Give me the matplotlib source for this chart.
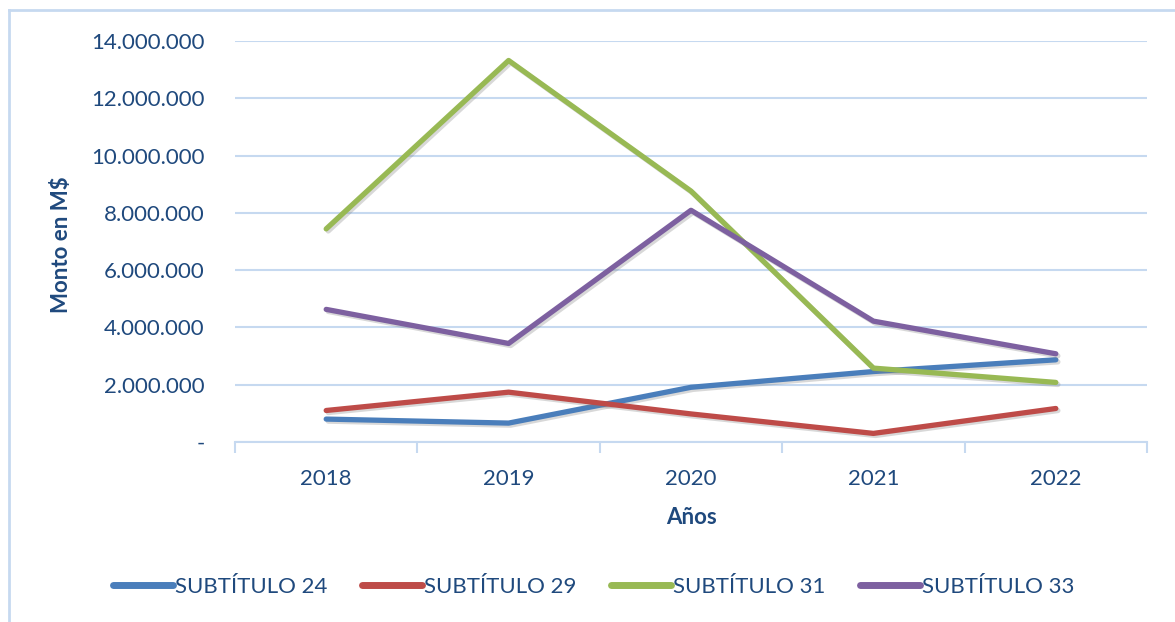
import matplotlib
matplotlib.use("Agg")
import matplotlib.pyplot as plt
import matplotlib.patheffects as pe
from matplotlib.lines import Line2D
from matplotlib.ticker import FuncFormatter, FixedLocator

years = ["2018", "2019", "2020", "2021", "2022"]
sub24 = [800000, 660000, 1910000, 2460000, 2870000]
sub29 = [1100000, 1740000, 980000, 300000, 1170000]
sub31 = [7440000, 13320000, 8760000, 2580000, 2080000]
sub33 = [4630000, 3440000, 8090000, 4220000, 3080000]
series_names = ["SUBTÍTULO 24", "SUBTÍTULO 29", "SUBTÍTULO 31", "SUBTÍTULO 33"]
colors = ["#4a7ebb", "#be4b48", "#98b954", "#7d60a0"]

text_color = "#1f497d"
grid_color = "#c6d9f0"
plt.rcParams["font.family"] = ["Lato", "DejaVu Sans"]

fig = plt.figure(figsize=(11.75, 6.22), dpi=100)
ax = fig.add_axes([235/1175, 1-442/622, (1147-235)/1175, (442-41)/622])

x = list(range(len(years)))
shadow = [pe.SimpleLineShadow(offset=(1.5, -1.5), shadow_color="gray", alpha=0.3), pe.Normal()]
for vals, name, c in zip([sub24, sub29, sub31, sub33], series_names, colors):
    ax.plot(x, vals, color=c, lw=3.8, label=name, solid_capstyle="round",
            solid_joinstyle="round", path_effects=shadow)

ax.set_xlim(-0.5, len(years) - 0.5)
ax.set_ylim(0, 14000000)
ax.set_yticks(range(0, 14000001, 2000000))

def fmt(v, pos):
    if v == 0:
        return "-"
    return f"{int(v):,}".replace(",", ".")
ax.yaxis.set_major_formatter(FuncFormatter(fmt))
ax.yaxis.grid(True, color=grid_color, lw=1.5)
ax.set_axisbelow(True)

ax.set_xticks(x)
ax.set_xticklabels(years)
ax.xaxis.set_minor_locator(FixedLocator([i - 0.5 for i in range(len(years) + 1)]))
ax.tick_params(axis="x", which="major", length=0, pad=19.5, labelsize=16, labelcolor=text_color)
ax.tick_params(axis="x", which="minor", length=8, width=1.5, color=grid_color, direction="out")
ax.tick_params(axis="y", length=0, pad=22, labelsize=16, labelcolor=text_color)

for s in ["left", "right", "top"]:
    ax.spines[s].set_visible(False)
ax.spines["bottom"].set_color(grid_color)
ax.spines["bottom"].set_linewidth(1.5)

ax.set_xlabel("Años", fontsize=16, fontweight="bold", color=text_color, labelpad=13)
fig.text(62/1175, 1-245/622, "Monto en M$", rotation=90, fontsize=16, fontweight="bold",
         color=text_color, ha="center", va="center")

leg = fig.legend(loc="center", bbox_to_anchor=(0.505, 1-587/622), ncol=4, frameon=False,
                 fontsize=16, handlelength=2.7, columnspacing=1.55, handletextpad=0.1)
for t in leg.get_texts():
    t.set_color(text_color)
for h in leg.get_lines():
    h.set_linewidth(5)
    h.set_path_effects([])

# chart border (only top and left edges visible in the cropped original)
fig.add_artist(Line2D([9/1175, 1.0], [1-10/622, 1-10/622], transform=fig.transFigure,
                      color=grid_color, lw=2))
fig.add_artist(Line2D([9/1175, 9/1175], [0, 1-10/622], transform=fig.transFigure,
                      color=grid_color, lw=2))

fig.savefig("out.png", dpi=100)
